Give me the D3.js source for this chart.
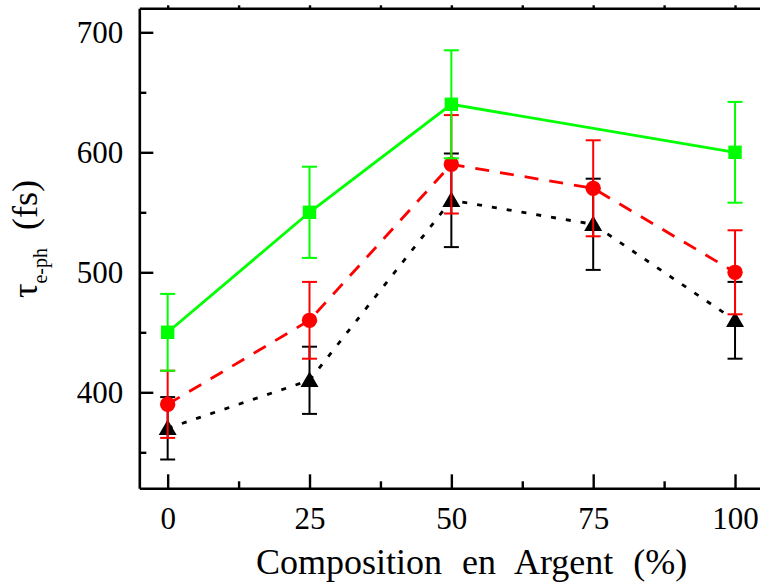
<!DOCTYPE html>
<html><head><meta charset="utf-8">
<script src="https://cdn.jsdelivr.net/npm/d3@7"></script>
<style>
html,body{margin:0;padding:0;background:#fff;}
svg{display:block;}
</style></head>
<body>
<svg id="chart" width="760" height="585"></svg>
<script>
// ---- data ----
const xTicks = [0, 25, 50, 75, 100];
const xMinorTicks = [12.5, 37.5, 62.5, 87.5];
const yTicks = [400, 500, 600, 700];
const yMinorTicks = [350, 450, 550, 650];

const xGreen = [0, 25, 50, 100];
const yGreen = [450, 550, 640, 600];
const eGreen = [32, 38, 45, 42];

const xRed = [0, 25, 50, 75, 100];
const yRed = [390, 460, 590, 570, 500];
const eRed = [28, 32, 41, 40, 35];

const xBlack = [0, 25, 50, 75, 100];
const yBlack = [370, 410, 560, 540, 460];
const eBlack = [26, 28, 39, 38, 32];

const xLabel = "Composition en Argent (%)";

// ---- layout ----
const FONT = '"Liberation Serif"';
const svg = d3.select("#chart");
const L = 139.3, R = 763.4, T = 8.3, B = 488.3;
const x = d3.scaleLinear().domain([-5, 105]).range([L, R]);
const y = d3.scaleLinear().domain([320, 720]).range([B, T]);

function styleAxis(g){
  g.attr("font-family", null);
  g.selectAll("path.domain").attr("stroke","#000").attr("stroke-width",2.6);
  g.selectAll(".tick line").attr("stroke","#000").attr("stroke-width",2.4);
  g.selectAll(".tick text").style("font-family",FONT).style("font-size","31px").attr("fill","#000");
}

// left axis
const gl = svg.append("g").attr("transform",`translate(${L},0)`)
  .call(d3.axisLeft(y).tickValues(yTicks).tickSize(-14).tickSizeOuter(0).tickPadding(16).tickFormat(d3.format("d")));
styleAxis(gl);
gl.selectAll(".tick text").attr("dy","0.33em");
const glm = svg.append("g").attr("transform",`translate(${L},0)`)
  .call(d3.axisLeft(y).tickValues(yMinorTicks).tickSize(-7).tickSizeOuter(0).tickFormat(""));
styleAxis(glm); glm.select("path.domain").remove();

// bottom axis
const gb = svg.append("g").attr("transform",`translate(0,${B})`)
  .call(d3.axisBottom(x).tickValues(xTicks).tickSize(-14).tickSizeOuter(0).tickPadding(19).tickFormat(d3.format("d")));
styleAxis(gb);
gb.selectAll(".tick text").attr("dy","0.71em");
const gbm = svg.append("g").attr("transform",`translate(0,${B})`)
  .call(d3.axisBottom(x).tickValues(xMinorTicks).tickSize(-7).tickSizeOuter(0).tickFormat(""));
styleAxis(gbm); gbm.select("path.domain").remove();

// top axis (ticks outward, mostly cropped)
const gt = svg.append("g").attr("transform",`translate(0,${T})`)
  .call(d3.axisTop(x).tickValues(xTicks.concat(xMinorTicks)).tickSize(3).tickSizeOuter(0).tickFormat(""));
styleAxis(gt);

// ---- series ----
function drawSeries(xs, ys, es, color, dash, marker){
  const data = xs.map((d,i)=>({x:d, y:ys[i], e:es[i]}));
  const g = svg.append("g");
  const eb = g.selectAll("g.eb").data(data).join("g");
  eb.append("line").attr("x1",d=>x(d.x)).attr("x2",d=>x(d.x))
    .attr("y1",d=>y(d.y-d.e)).attr("y2",d=>y(d.y+d.e))
    .attr("stroke",color).attr("stroke-width",2);
  [1,-1].forEach(s=>{
    eb.append("line").attr("x1",d=>x(d.x)-7.5).attr("x2",d=>x(d.x)+7.5)
      .attr("y1",d=>y(d.y+s*d.e)).attr("y2",d=>y(d.y+s*d.e))
      .attr("stroke",color).attr("stroke-width",2);
  });
  g.append("path").datum(data)
    .attr("d", d3.line().x(d=>x(d.x)).y(d=>y(d.y)))
    .attr("fill","none").attr("stroke",color).attr("stroke-width",2.8)
    .attr("stroke-dasharray",dash);
  const sym = marker==="square" ? d3.symbolSquare : marker==="circle" ? d3.symbolCircle : d3.symbolTriangle;
  const size = marker==="square" ? 180 : marker==="circle" ? 185 : 140;
  g.selectAll("path.m").data(data).join("path").attr("class","m")
    .attr("d", d3.symbol().type(sym).size(size))
    .attr("transform", d=>`translate(${x(d.x)},${y(d.y)+(marker==="triangle"?1.5:0)})`)
    .attr("fill",color);
}

drawSeries(xBlack, yBlack, eBlack, "#000000", "5,10", "triangle");
drawSeries(xRed, yRed, eRed, "#ff0000", "14,11", "circle");
drawSeries(xGreen, yGreen, eGreen, "#00ff00", null, "square");

// ---- labels ----
svg.append("text")
  .attr("x", 256).attr("y", 574)
  .attr("text-anchor","start")
  .style("font-family",FONT).style("font-size","36px")
  .style("word-spacing","11px")
  .text(xLabel);

const yl = svg.append("text")
  .attr("transform","translate(37,239) rotate(-90)")
  .attr("text-anchor","middle")
  .style("font-family",FONT)
  .style("white-space","pre");
yl.append("tspan").style("font-family",FONT).style("font-size","36px").text("τ");
yl.append("tspan").style("font-family",FONT).style("font-size","20px").attr("dy",10).text("e-ph");
yl.append("tspan").style("font-family",FONT).style("font-size","36px").attr("dy",-10).text("  (fs)");
</script>
</body></html>
